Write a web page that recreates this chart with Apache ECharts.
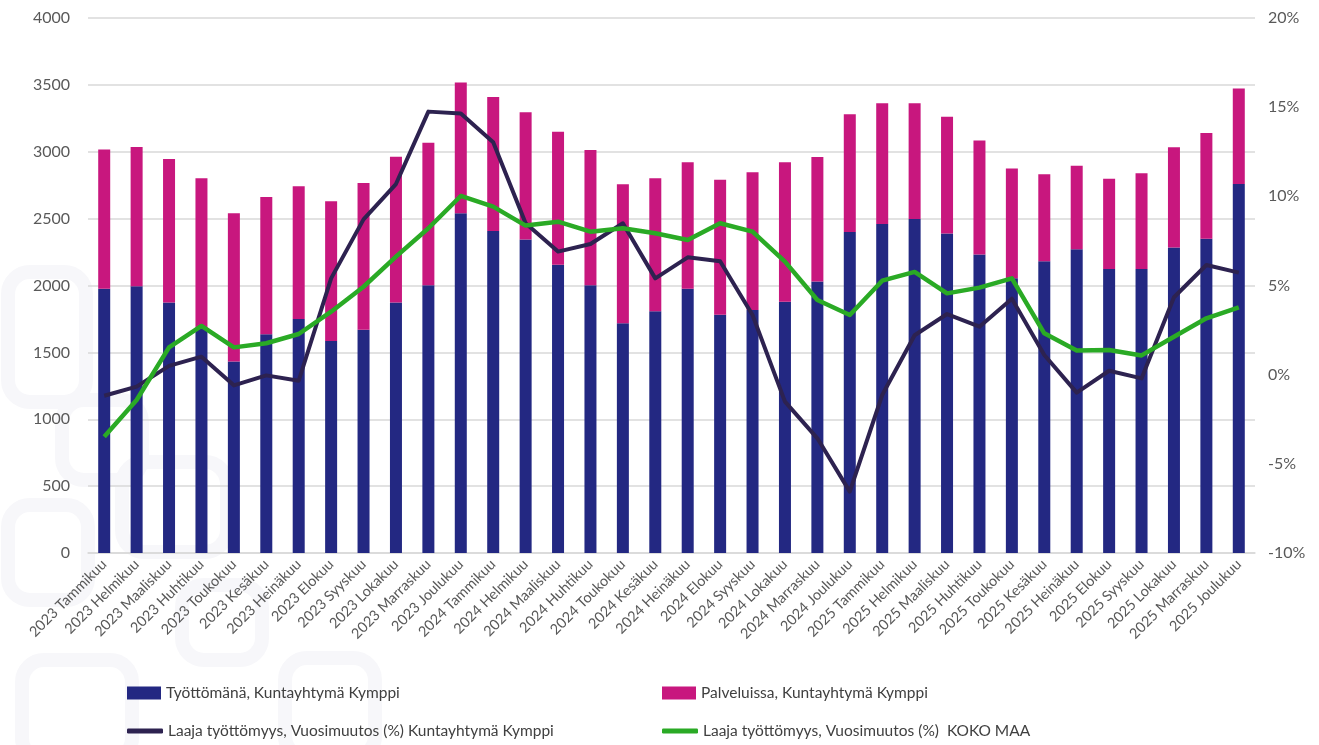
<!DOCTYPE html>
<html><head><meta charset="utf-8">
<script src="https://cdn.jsdelivr.net/npm/echarts@6/dist/echarts.min.js"></script>
<style>html,body{margin:0;padding:0;background:#fff}#c{width:1319px;height:745px}</style>
</head><body><div id="c"></div>
<script>
const months = ["Tammikuu","Helmikuu","Maaliskuu","Huhtikuu","Toukokuu","Kesäkuu","Heinäkuu","Elokuu","Syyskuu","Lokakuu","Marraskuu","Joulukuu"];
const categories = [];
[2023, 2024, 2025].forEach(y => months.forEach(m => categories.push(y + " " + m)));

const tyottomana = [1975,1994,1872,1680,1431,1635,1750,1585,1670,1872,2001,2540,
                    2408,2343,2156,2001,1717,1807,1976,1782,1817,1879,2029,2400,
                    2460,2497,2388,2231,2054,2181,2271,2123,2123,2285,2350,2759];
const palveluissa = [1041,1042,1074,1121,1109,1027,992,1045,1096,1091,1067,977,
                     1002,952,994,1012,1040,994,945,1009,1029,1042,932,880,
                     902,865,874,854,820,650,625,676,716,748,790,713];
const kymppiMuutos = [-1.18,-0.67,0.49,1.01,-0.60,-0.04,-0.34,5.40,8.71,10.69,14.75,14.65,
                      13.03,8.49,6.90,7.33,8.49,5.40,6.58,6.36,3.35,-1.51,-3.57,-6.56,
                      -1.14,2.21,3.40,2.69,4.26,1.10,-1.01,0.22,-0.21,4.34,6.15,5.72];
const kokoMaaMuutos = [-3.48,-1.42,1.53,2.73,1.53,1.76,2.28,3.53,4.93,6.62,8.21,10.02,
                       9.42,8.36,8.58,8.02,8.21,7.93,7.55,8.49,8.02,6.34,4.19,3.35,
                       5.27,5.76,4.56,4.88,5.40,2.32,1.35,1.38,1.08,2.13,3.16,3.78];
const leftTicks = {min: 0, max: 4000, interval: 500};
const rightTicks = {min: -10, max: 20, interval: 5};

const names = ["Työttömänä, Kuntayhtymä Kymppi", "Palveluissa, Kuntayhtymä Kymppi",
               "Laaja työttömyys, Vuosimuutos (%) Kuntayhtymä Kymppi",
               "Laaja työttömyys, Vuosimuutos (%)  KOKO MAA"];
const NAVY = "#232882", MAG = "#C8177E", DARK = "#2D2250", GREEN = "#2AAA25";
const FONT = "Lato, 'Open Sans', sans-serif";
const legendText = {color: "#404040", fontSize: 15.5, fontFamily: FONT};

// faint background watermark shapes (decoration)
const wm = [[8,272,78,130],[62,400,80,80],[8,505,80,95],[122,462,105,90],[22,660,110,100],[182,585,80,75],[285,658,90,100]];
const graphics = wm.map(r => ({type: "rect", z: -10, silent: true,
  shape: {x: r[0], y: r[1], width: r[2], height: r[3], r: 22},
  style: {fill: null, stroke: "#f7f7fa", lineWidth: 14}}));

const chart = echarts.init(document.getElementById("c"), null, {renderer: "canvas"});
chart.setOption({
  animation: false,
  backgroundColor: "#fff",
  textStyle: {fontFamily: FONT},
  graphic: graphics,
  grid: {left: 88, right: 64, top: 18, bottom: 192, containLabel: false},
  legend: [
    {data: [{name: names[0], icon: "rect"}], left: 127, top: 685, padding: 0, itemWidth: 34, itemHeight: 13, itemGap: 3, textStyle: legendText},
    {data: [{name: names[1], icon: "rect"}], left: 662, top: 685, padding: 0, itemWidth: 34, itemHeight: 13, itemGap: 3, textStyle: legendText},
    {data: [{name: names[2], icon: "roundRect"}], left: 127, top: 723, padding: 0, itemWidth: 36, itemHeight: 5, itemGap: 3, textStyle: legendText},
    {data: [{name: names[3], icon: "roundRect"}], left: 662, top: 723, padding: 0, itemWidth: 36, itemHeight: 5, itemGap: 3, textStyle: legendText}
  ],
  xAxis: {
    type: "category", data: categories,
    axisLine: {show: true, lineStyle: {color: "#d9d9d9", width: 1.5}},
    axisTick: {show: false},
    axisLabel: {rotate: 45, interval: 0, color: "#595959", fontSize: 14.5, fontFamily: FONT, margin: 9}
  },
  yAxis: [
    {type: "value", min: leftTicks.min, max: leftTicks.max, interval: leftTicks.interval,
     axisLine: {show: false}, axisTick: {show: false},
     axisLabel: {color: "#595959", fontSize: 16, fontFamily: FONT, margin: 18, formatter: v => String(v)},
     splitLine: {lineStyle: {color: "#d9d9d9", width: 1.5}}},
    {type: "value", min: rightTicks.min, max: rightTicks.max, interval: rightTicks.interval,
     axisLine: {show: false}, axisTick: {show: false},
     axisLabel: {color: "#595959", fontSize: 16, fontFamily: FONT, margin: 13, formatter: "{value}%"},
     splitLine: {show: false}}
  ],
  series: [
    {name: names[0], type: "bar", stack: "a", data: tyottomana, barWidth: 12, itemStyle: {color: NAVY}},
    {name: names[1], type: "bar", stack: "a", data: palveluissa, barWidth: 12, itemStyle: {color: MAG}},
    {name: names[2], type: "line", yAxisIndex: 1, data: kymppiMuutos, showSymbol: false, symbol: "none",
     lineStyle: {color: DARK, width: 4, join: "round"}, itemStyle: {color: DARK}, z: 3},
    {name: names[3], type: "line", yAxisIndex: 1, data: kokoMaaMuutos, showSymbol: false, symbol: "none",
     lineStyle: {color: GREEN, width: 4.5, join: "round"}, itemStyle: {color: GREEN}, z: 4}
  ]
});
</script></body></html>
